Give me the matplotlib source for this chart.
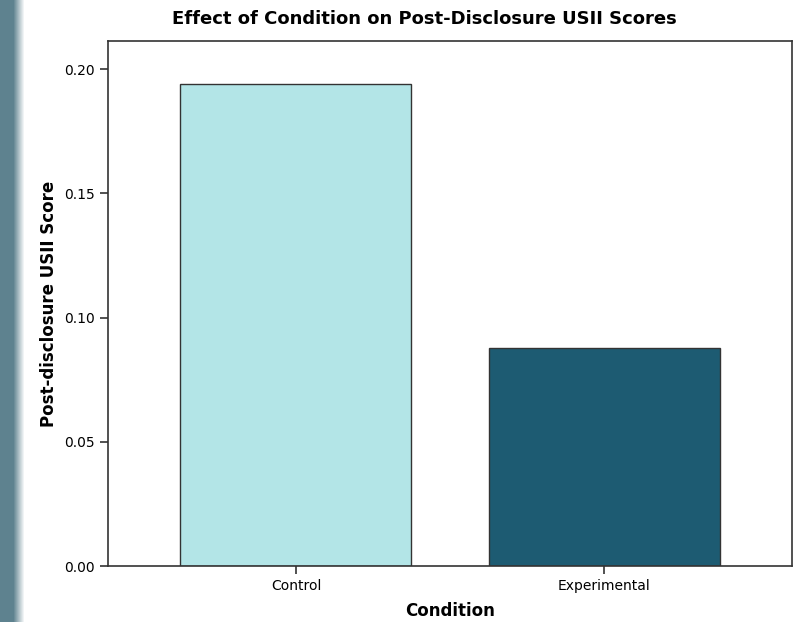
import matplotlib
matplotlib.use('Agg')
import matplotlib.pyplot as plt
import numpy as np
from matplotlib.patches import Rectangle

conditions = ['Control', 'Experimental']
scores = [0.194, 0.0877]
bar_colors = ['#b3e5e7', '#1d5b72']
yticks = [0.00, 0.05, 0.10, 0.15, 0.20]

plt.rcParams['font.family'] = ['DejaVu Sans']

W, H = 796, 622
fig = plt.figure(figsize=(W / 100, H / 100), dpi=100)

# dark strip on the left edge of the screenshot, fading out to white
fig.patches.append(Rectangle((0, 0), 14 / W, 1, transform=fig.transFigure,
                             color=(0.37, 0.51, 0.56), zorder=-1, linewidth=0))
for i in range(10):
    t = (i + 1) / 11
    col = (0.37 + 0.63 * t, 0.51 + 0.49 * t, 0.56 + 0.44 * t)
    fig.patches.append(Rectangle(((14 + i) / W, 0), 1 / W, 1, transform=fig.transFigure,
                                 color=col, zorder=-1, linewidth=0))

ax = fig.add_axes([108 / W, 1 - 566 / H, 684 / W, 525 / H])
x = np.arange(len(conditions))
ax.bar(x, scores, width=0.75, color=bar_colors, edgecolor='#333333', linewidth=1.0)

ax.set_xlim(-0.61, 1.61)
ax.set_ylim(0, 0.2113)
ax.set_xticks(x)
ax.set_xticklabels(conditions, fontsize=10)
ax.set_yticks(yticks)
ax.set_yticklabels([f'{v:.2f}' for v in yticks], fontsize=10)
ax.tick_params(length=6, width=1.2, color='#333333')
for s in ax.spines.values():
    s.set_color('#333333')
    s.set_linewidth(1.2)

ax.set_xlabel('Condition', fontsize=12, fontweight='bold', labelpad=6)
ax.set_ylabel('Post-disclosure USII Score', fontsize=12, fontweight='bold', labelpad=4)
fig.text(424 / W, 1 - 19 / H, 'Effect of Condition on Post-Disclosure USII Scores',
         ha='center', va='center', fontsize=13, fontweight='bold')

fig.savefig('out.png', dpi=100)
